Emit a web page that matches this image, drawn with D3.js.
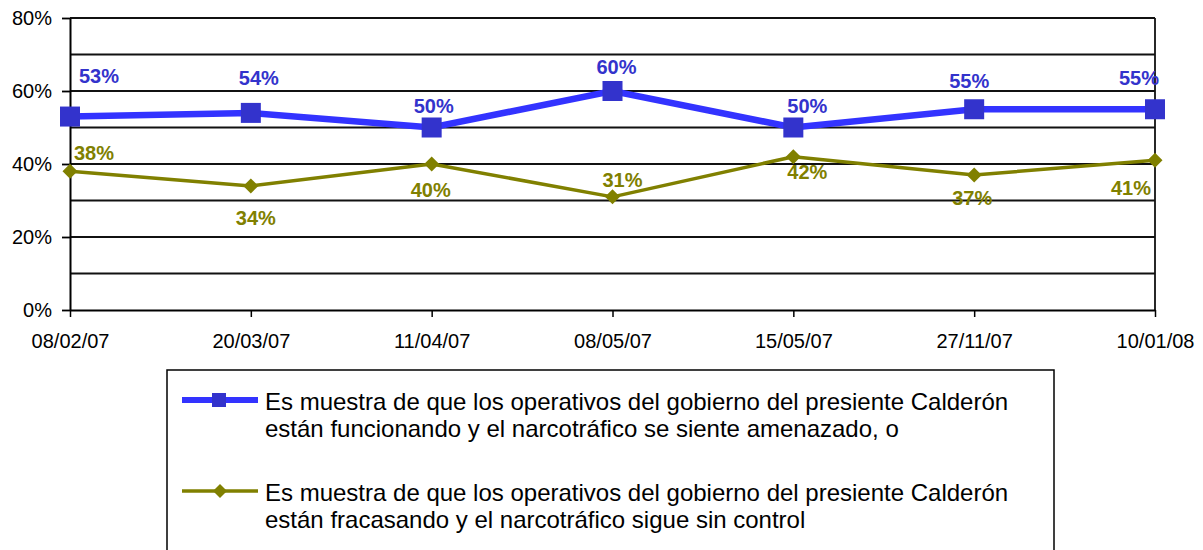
<!DOCTYPE html>
<html>
<head>
<meta charset="utf-8">
<script src="https://cdn.jsdelivr.net/npm/d3@7"></script>
<style>
  html, body { margin: 0; padding: 0; background: #fff; }
  svg { display: block; font-family: "Liberation Sans", Arial, sans-serif; }
</style>
</head>
<body>
<div id="chart"></div>
<script>
const dates = ["08/02/07", "20/03/07", "11/04/07", "08/05/07", "15/05/07", "27/11/07", "10/01/08"];
const funcionando = [53, 54, 50, 60, 50, 55, 55];
const fracasando = [38, 34, 40, 31, 42, 37, 41];
const yTicks = [0, 20, 40, 60, 80];
const gridValues = [10, 20, 30, 40, 50, 60, 70, 80];

const legendLabels = [
  ["Es muestra de que los operativos del gobierno del presiente Calderón",
   "están funcionando y el narcotráfico se siente amenazado, o"],
  ["Es muestra de que los operativos del gobierno del presiente Calderón",
   "están fracasando y el narcotráfico sigue sin control"]
];

// label nudges relative to each point (dx, dy to baseline)
const blueLabelOffset = [[29, -34], [8, -28], [2, -15], [4, -17], [14, -15], [-5, -21], [-16, -24]];
const oliveLabelOffset = [[24, -11], [5, 39], [-1, 33], [10, -10], [14, 22], [-2, 30], [-24, 35]];

const width = 1203;
const height = 550;
const plot = { left: 70, right: 1155, top: 18, bottom: 310 };

const blue = "#3333ff";
const blueDark = "#3333cc";
const olive = "#808000";

const svg = d3.select("#chart").append("svg")
  .attr("width", width)
  .attr("height", height)
  .attr("viewBox", `0 0 ${width} ${height}`);

const x = d3.scalePoint().domain(dates).range([plot.left, plot.right]);
const y = d3.scaleLinear().domain([0, 80]).range([plot.bottom, plot.top]);

// gridlines
svg.append("g")
  .selectAll("line")
  .data(gridValues)
  .join("line")
  .attr("x1", plot.left)
  .attr("x2", plot.right)
  .attr("y1", (d) => y(d))
  .attr("y2", (d) => y(d))
  .attr("stroke", "#111")
  .attr("stroke-width", 1.8);

// right border
svg.append("line")
  .attr("x1", plot.right).attr("x2", plot.right)
  .attr("y1", plot.top).attr("y2", plot.bottom)
  .attr("stroke", "#111").attr("stroke-width", 1.8);

// y axis
svg.append("g")
  .attr("transform", `translate(${plot.left},0)`)
  .call(d3.axisLeft(y).tickValues(yTicks).tickFormat((d) => d + "%").tickSize(8).tickPadding(10).tickSizeOuter(0))
  .call((g) => g.select(".domain").attr("stroke", "#000").attr("stroke-width", 2))
  .call((g) => g.selectAll(".tick line").attr("stroke", "#000").attr("stroke-width", 1.8))
  .call((g) => g.selectAll(".tick text")
    .attr("font-size", 20)
    .attr("fill", "#000")
    .attr("font-family", "Liberation Sans, Arial, sans-serif"));

// x axis
svg.append("g")
  .attr("transform", `translate(0,${plot.bottom})`)
  .call(d3.axisBottom(x).tickSize(7).tickPadding(17).tickSizeOuter(0))
  .call((g) => g.select(".domain").attr("stroke", "#000").attr("stroke-width", 2.2))
  .call((g) => g.selectAll(".tick line").attr("stroke", "#000").attr("stroke-width", 1.5))
  .call((g) => g.selectAll(".tick text")
    .attr("font-size", 20)
    .attr("fill", "#000")
    .attr("font-family", "Liberation Sans, Arial, sans-serif"));

const blueData = dates.map((d, i) => ({ date: d, value: funcionando[i], off: blueLabelOffset[i] }));
const oliveData = dates.map((d, i) => ({ date: d, value: fracasando[i], off: oliveLabelOffset[i] }));

const line = d3.line().x((d) => x(d.date)).y((d) => y(d.value));

// olive series
svg.append("path")
  .datum(oliveData)
  .attr("fill", "none")
  .attr("stroke", olive)
  .attr("stroke-width", 3.5)
  .attr("stroke-linejoin", "round")
  .attr("d", line);

svg.append("g")
  .selectAll("path")
  .data(oliveData)
  .join("path")
  .attr("transform", (d) => `translate(${x(d.date)},${y(d.value)})`)
  .attr("d", "M0,-7.5L7.5,0L0,7.5L-7.5,0Z")
  .attr("fill", olive);

// blue series
svg.append("path")
  .datum(blueData)
  .attr("fill", "none")
  .attr("stroke", blue)
  .attr("stroke-width", 6.5)
  .attr("d", line);

svg.append("g")
  .selectAll("rect")
  .data(blueData)
  .join("rect")
  .attr("x", (d) => x(d.date) - 10)
  .attr("y", (d) => y(d.value) - 10)
  .attr("width", 20)
  .attr("height", 20)
  .attr("fill", blueDark);

// data labels
const labelGroups = [[blueData, blueDark], [oliveData, olive]];
labelGroups.forEach(([data, color]) => {
  svg.append("g")
    .selectAll("text")
    .data(data)
    .join("text")
    .attr("x", (d) => x(d.date) + d.off[0])
    .attr("y", (d) => y(d.value) + d.off[1])
    .attr("text-anchor", "middle")
    .attr("font-size", 20)
    .attr("font-weight", "bold")
    .attr("fill", color)
    .text((d) => d.value + "%");
});

// legend
const legend = svg.append("g");
legend.append("rect")
  .attr("x", 167)
  .attr("y", 370)
  .attr("width", 887)
  .attr("height", 200)
  .attr("fill", "none")
  .attr("stroke", "#000")
  .attr("stroke-width", 1.5);

const legendItems = [
  { color: blue, marker: "square", y: 400, lines: legendLabels[0] },
  { color: olive, marker: "diamond", y: 491, lines: legendLabels[1] }
];

legendItems.forEach((item) => {
  const g = legend.append("g").attr("transform", `translate(0,${item.y})`);
  g.append("line")
    .attr("x1", 182).attr("x2", 258)
    .attr("y1", 0).attr("y2", 0)
    .attr("stroke", item.color)
    .attr("stroke-width", item.marker === "square" ? 6 : 3.5);
  if (item.marker === "square") {
    g.append("rect")
      .attr("x", 212).attr("y", -7)
      .attr("width", 14).attr("height", 14)
      .attr("fill", blueDark);
  } else {
    g.append("path")
      .attr("transform", "translate(220,0)")
      .attr("d", "M0,-7L7,0L0,7L-7,0Z")
      .attr("fill", olive);
  }
  const t = g.append("text")
    .attr("x", 265)
    .attr("y", 10)
    .attr("font-size", 24)
    .attr("fill", "#000");
  item.lines.forEach((l, i) => {
    t.append("tspan").attr("x", 265).attr("dy", i === 0 ? 0 : 27).text(l);
  });
});
</script>
</body>
</html>
